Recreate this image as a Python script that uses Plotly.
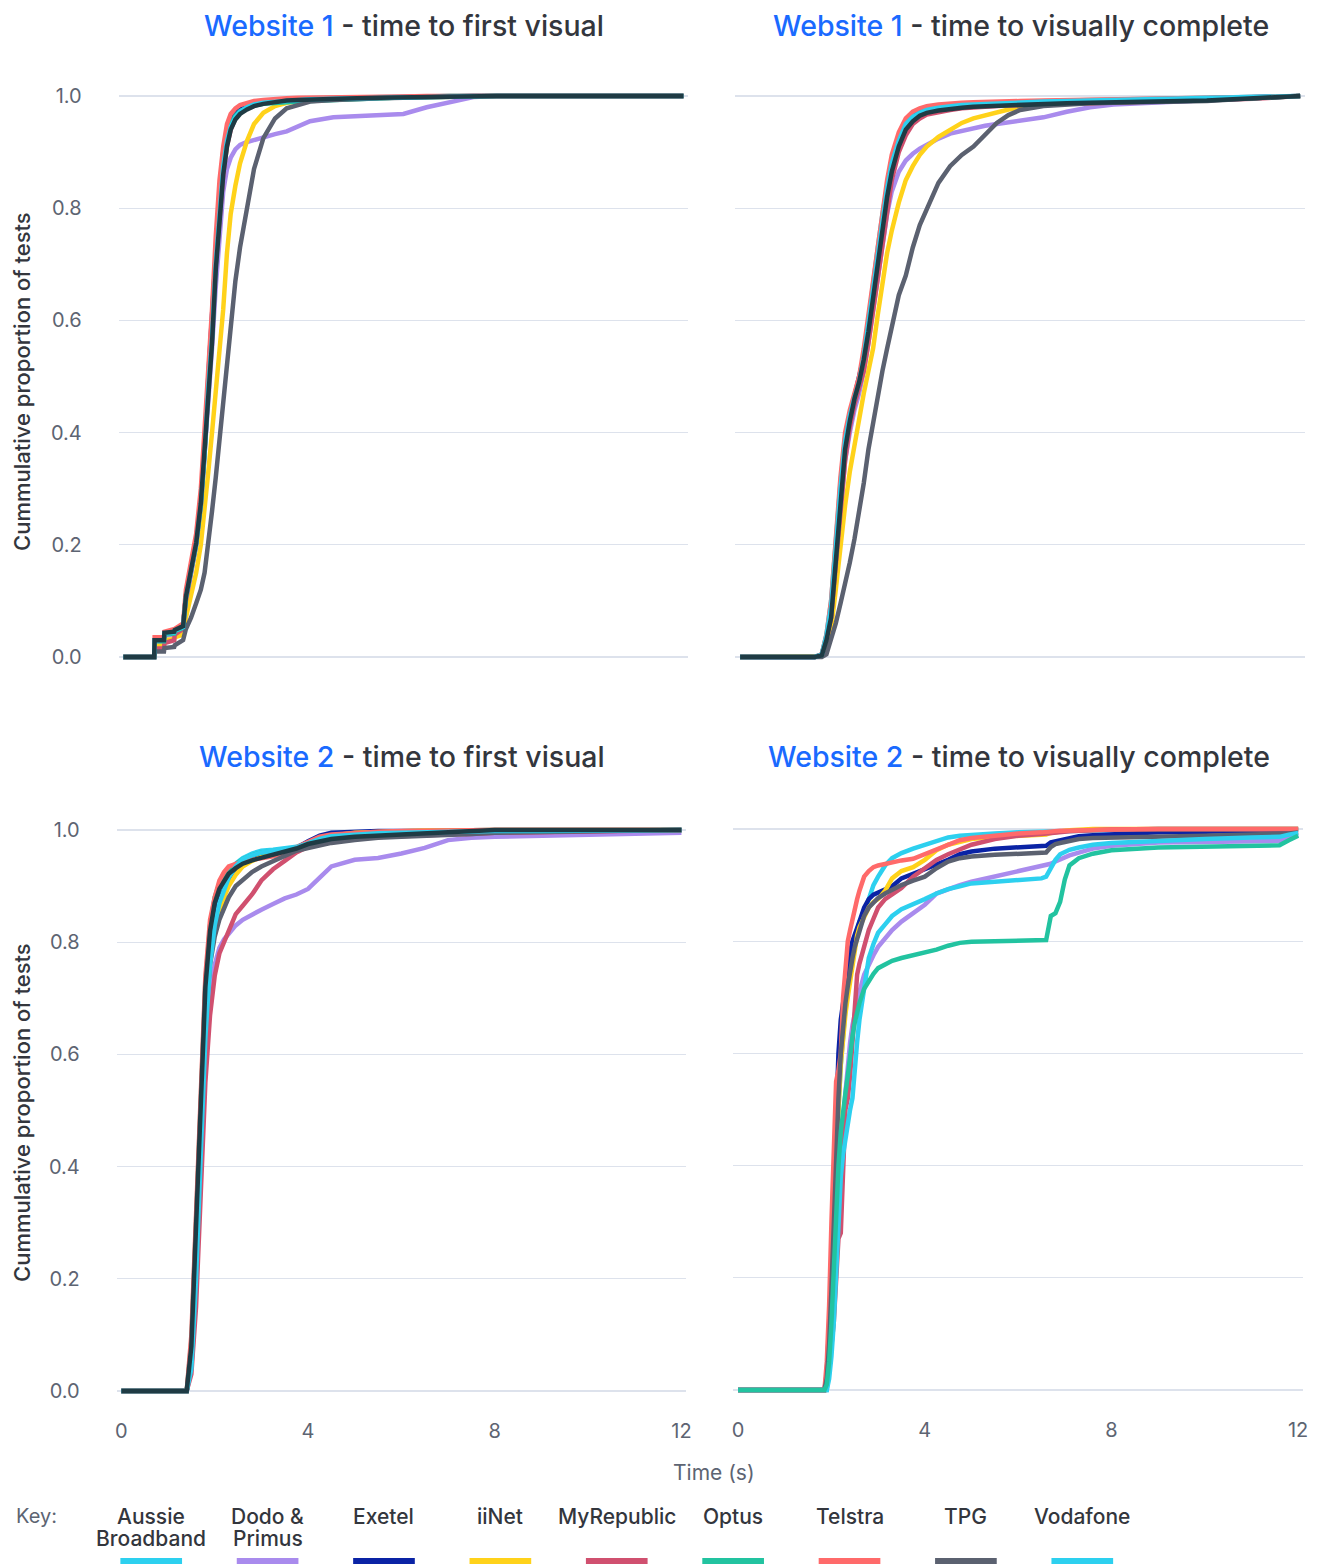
import plotly.graph_objects as go

# ---------------- data ----------------
ISPS = ["Aussie Broadband", "Dodo & Primus", "Exetel", "iiNet", "MyRepublic",
        "Optus", "Telstra", "TPG", "Vodafone"]
LEGEND_LABELS = [["Aussie", "Broadband"], ["Dodo &", "Primus"], ["Exetel"], ["iiNet"],
                 ["MyRepublic"], ["Optus"], ["Telstra"], ["TPG"], ["Vodafone"]]
COLORS = ["#2dd0ef", "#a98bed", "#0a23a5", "#ffd21a", "#d0506f",
          "#22c3a0", "#ff6a6a", "#5b6170", "#2dd0ef"]
OVERALL_COLOR = "#1f3b44"

X_TICKS = [0, 4, 8, 12]
Y_TICKS = [0.0, 0.2, 0.4, 0.6, 0.8, 1.0]

# Website 1 - time to first visual
T_W1_FIRST = [0, 0.66, 0.67, 0.87, 0.88, 1.09, 1.10, 1.28, 1.34, 1.45, 1.56, 1.66, 1.74,
              1.82, 1.90, 1.98, 2.06, 2.14, 2.22, 2.30, 2.40, 2.50, 2.65, 2.80, 3.00, 3.25,
              3.50, 3.75, 4.00, 4.50, 5.00, 5.50, 6.00, 6.50, 7.00, 7.50, 8.00, 12.0]
W1_FIRST = {
    "Aussie Broadband": [0, 0, 0.03, 0.03, 0.043, 0.045, 0.048, 0.055, 0.11, 0.16, 0.21, 0.28, 0.38, 0.50, 0.58, 0.72, 0.82, 0.89, 0.93, 0.955, 0.97, 0.978, 0.984, 0.988, 0.991, 0.993, 0.994, 0.995, 0.996, 0.997, 0.998, 0.998, 0.999, 0.999, 1.0, 1.0, 1.0, 1.0],
    "Dodo & Primus": [0, 0, 0.025, 0.025, 0.038, 0.04, 0.044, 0.05, 0.10, 0.15, 0.20, 0.27, 0.36, 0.47, 0.55, 0.66, 0.76, 0.83, 0.87, 0.89, 0.905, 0.913, 0.918, 0.922, 0.927, 0.932, 0.937, 0.945, 0.955, 0.962, 0.964, 0.966, 0.968, 0.98, 0.99, 0.998, 1.0, 1.0],
    "Exetel": [0, 0, 0.03, 0.03, 0.043, 0.045, 0.048, 0.055, 0.11, 0.16, 0.21, 0.28, 0.37, 0.50, 0.60, 0.73, 0.83, 0.90, 0.94, 0.96, 0.972, 0.98, 0.985, 0.988, 0.99, 0.992, 0.993, 0.994, 0.995, 0.996, 0.997, 0.998, 0.999, 0.999, 1.0, 1.0, 1.0, 1.0],
    "iiNet": [0, 0, 0.02, 0.02, 0.03, 0.032, 0.035, 0.04, 0.07, 0.11, 0.15, 0.20, 0.26, 0.33, 0.40, 0.47, 0.53, 0.62, 0.72, 0.79, 0.84, 0.88, 0.92, 0.95, 0.97, 0.982, 0.988, 0.991, 0.993, 0.995, 0.996, 0.997, 0.998, 0.999, 1.0, 1.0, 1.0, 1.0],
    "MyRepublic": [0, 0, 0.015, 0.015, 0.025, 0.03, 0.04, 0.05, 0.10, 0.15, 0.20, 0.27, 0.36, 0.48, 0.57, 0.70, 0.79, 0.86, 0.91, 0.94, 0.96, 0.972, 0.98, 0.985, 0.989, 0.992, 0.993, 0.994, 0.995, 0.996, 0.997, 0.998, 0.999, 0.999, 1.0, 1.0, 1.0, 1.0],
    "Optus": [0, 0, 0.028, 0.028, 0.04, 0.042, 0.046, 0.052, 0.11, 0.16, 0.21, 0.28, 0.37, 0.49, 0.57, 0.71, 0.81, 0.88, 0.925, 0.95, 0.965, 0.973, 0.979, 0.983, 0.986, 0.988, 0.989, 0.99, 0.991, 0.993, 0.995, 0.997, 0.998, 0.999, 1.0, 1.0, 1.0, 1.0],
    "Telstra": [0, 0, 0.035, 0.035, 0.045, 0.048, 0.05, 0.06, 0.12, 0.17, 0.22, 0.30, 0.40, 0.52, 0.62, 0.75, 0.85, 0.91, 0.95, 0.968, 0.978, 0.984, 0.988, 0.991, 0.993, 0.995, 0.996, 0.997, 0.997, 0.998, 0.998, 0.999, 0.999, 1.0, 1.0, 1.0, 1.0, 1.0],
    "TPG": [0, 0, 0.01, 0.01, 0.016, 0.018, 0.021, 0.03, 0.05, 0.07, 0.096, 0.12, 0.15, 0.20, 0.26, 0.32, 0.39, 0.46, 0.53, 0.59, 0.67, 0.73, 0.80, 0.87, 0.925, 0.96, 0.978, 0.985, 0.99, 0.993, 0.995, 0.996, 0.997, 0.998, 0.999, 1.0, 1.0, 1.0],
    "Vodafone": [0, 0, 0.03, 0.03, 0.042, 0.044, 0.047, 0.053, 0.105, 0.155, 0.20, 0.27, 0.36, 0.48, 0.57, 0.70, 0.80, 0.875, 0.92, 0.945, 0.962, 0.972, 0.98, 0.985, 0.988, 0.99, 0.992, 0.993, 0.994, 0.995, 0.996, 0.997, 0.998, 0.999, 1.0, 1.0, 1.0, 1.0],
}
W1_FIRST_ALL = [0, 0, 0.03, 0.03, 0.043, 0.045, 0.048, 0.055, 0.107, 0.155, 0.203, 0.274, 0.37, 0.49, 0.56, 0.69, 0.79, 0.86, 0.91, 0.94, 0.958, 0.968, 0.976, 0.982, 0.986, 0.99, 0.992, 0.993, 0.994, 0.995, 0.996, 0.997, 0.998, 0.999, 1.0, 1.0, 1.0, 1.0]

# Website 1 - time to visually complete
T_W1_VC = [0, 1.6, 1.75, 1.85, 1.95, 2.05, 2.15, 2.25, 2.35, 2.45, 2.55, 2.65, 2.75, 2.85,
           2.95, 3.05, 3.15, 3.25, 3.4, 3.55, 3.7, 3.85, 4.0, 4.25, 4.5, 4.75, 5.0, 5.25,
           5.5, 5.75, 6.0, 6.5, 7.0, 7.5, 8.0, 9.0, 10.0, 11.0, 12.0]
W1_VC = {
    "Aussie Broadband": [0, 0, 0.005, 0.04, 0.10, 0.21, 0.31, 0.39, 0.43, 0.465, 0.495, 0.54, 0.60, 0.67, 0.73, 0.79, 0.84, 0.885, 0.925, 0.952, 0.965, 0.972, 0.977, 0.981, 0.983, 0.985, 0.986, 0.987, 0.988, 0.989, 0.99, 0.991, 0.992, 0.993, 0.994, 0.995, 0.996, 0.998, 1.0],
    "Dodo & Primus": [0, 0, 0.003, 0.03, 0.07, 0.17, 0.27, 0.35, 0.40, 0.44, 0.47, 0.51, 0.56, 0.62, 0.68, 0.74, 0.79, 0.83, 0.865, 0.885, 0.897, 0.906, 0.913, 0.924, 0.933, 0.938, 0.943, 0.947, 0.95, 0.953, 0.956, 0.962, 0.972, 0.98, 0.985, 0.989, 0.992, 0.996, 1.0],
    "Exetel": [0, 0, 0.004, 0.035, 0.08, 0.18, 0.29, 0.38, 0.43, 0.465, 0.495, 0.535, 0.59, 0.66, 0.72, 0.78, 0.835, 0.88, 0.925, 0.955, 0.968, 0.974, 0.978, 0.981, 0.983, 0.984, 0.985, 0.986, 0.987, 0.988, 0.988, 0.989, 0.99, 0.991, 0.992, 0.993, 0.995, 0.997, 1.0],
    "iiNet": [0, 0, 0.002, 0.02, 0.05, 0.12, 0.20, 0.27, 0.33, 0.38, 0.43, 0.47, 0.51, 0.55, 0.61, 0.67, 0.72, 0.76, 0.81, 0.85, 0.875, 0.895, 0.91, 0.927, 0.94, 0.952, 0.96, 0.966, 0.972, 0.976, 0.979, 0.984, 0.986, 0.988, 0.989, 0.991, 0.994, 0.997, 1.0],
    "MyRepublic": [0, 0, 0.003, 0.03, 0.07, 0.16, 0.26, 0.35, 0.41, 0.45, 0.48, 0.51, 0.56, 0.62, 0.68, 0.74, 0.80, 0.85, 0.90, 0.93, 0.95, 0.96, 0.967, 0.972, 0.975, 0.978, 0.98, 0.981, 0.982, 0.983, 0.984, 0.985, 0.986, 0.987, 0.988, 0.99, 0.992, 0.995, 1.0],
    "Optus": [0, 0, 0.004, 0.035, 0.08, 0.18, 0.29, 0.38, 0.425, 0.46, 0.49, 0.53, 0.585, 0.65, 0.71, 0.77, 0.825, 0.87, 0.915, 0.945, 0.96, 0.968, 0.973, 0.977, 0.979, 0.981, 0.982, 0.983, 0.984, 0.985, 0.986, 0.987, 0.988, 0.989, 0.99, 0.991, 0.993, 0.996, 1.0],
    "Telstra": [0, 0, 0.005, 0.04, 0.10, 0.21, 0.32, 0.40, 0.44, 0.47, 0.50, 0.55, 0.61, 0.68, 0.74, 0.80, 0.85, 0.895, 0.935, 0.96, 0.972, 0.978, 0.982, 0.985, 0.987, 0.988, 0.989, 0.99, 0.99, 0.991, 0.991, 0.992, 0.993, 0.994, 0.995, 0.996, 0.997, 0.998, 1.0],
    "TPG": [0, 0, 0, 0.005, 0.03, 0.06, 0.095, 0.13, 0.168, 0.21, 0.255, 0.31, 0.37, 0.42, 0.47, 0.51, 0.55, 0.59, 0.645, 0.68, 0.73, 0.77, 0.80, 0.845, 0.875, 0.895, 0.91, 0.932, 0.952, 0.966, 0.975, 0.982, 0.985, 0.987, 0.988, 0.989, 0.991, 0.996, 1.0],
    "Vodafone": [0, 0, 0.004, 0.038, 0.09, 0.2, 0.3, 0.385, 0.43, 0.462, 0.49, 0.535, 0.595, 0.665, 0.725, 0.785, 0.835, 0.88, 0.92, 0.95, 0.963, 0.97, 0.975, 0.979, 0.982, 0.984, 0.985, 0.986, 0.987, 0.988, 0.989, 0.99, 0.991, 0.992, 0.993, 0.994, 0.996, 0.998, 1.0],
}
W1_VC_ALL = [0, 0, 0.003, 0.03, 0.07, 0.17, 0.28, 0.37, 0.42, 0.46, 0.49, 0.53, 0.58, 0.64, 0.70, 0.76, 0.82, 0.865, 0.91, 0.94, 0.955, 0.965, 0.97, 0.974, 0.977, 0.979, 0.981, 0.982, 0.983, 0.984, 0.985, 0.986, 0.987, 0.988, 0.989, 0.99, 0.992, 0.996, 1.0]

# Website 2 - time to first visual
T_W2_FIRST = [0, 1.4, 1.5, 1.6, 1.7, 1.8, 1.9, 2.0, 2.1, 2.2, 2.3, 2.45, 2.6, 2.8, 3.0, 3.25,
              3.5, 3.75, 4.0, 4.25, 4.5, 5.0, 5.5, 6.0, 6.5, 7.0, 7.5, 8.0, 9.0, 10.0, 11.0, 12.0]
W2_FIRST = {
    "Aussie Broadband": [0, 0, 0.05, 0.22, 0.45, 0.66, 0.78, 0.85, 0.89, 0.91, 0.925, 0.94, 0.95, 0.958, 0.963, 0.965, 0.967, 0.97, 0.978, 0.985, 0.99, 0.993, 0.994, 0.995, 0.996, 0.997, 0.997, 0.998, 0.998, 0.999, 0.999, 1.0],
    "Dodo & Primus": [0, 0, 0.04, 0.18, 0.40, 0.60, 0.70, 0.76, 0.79, 0.805, 0.815, 0.83, 0.84, 0.85, 0.858, 0.868, 0.878, 0.885, 0.895, 0.915, 0.935, 0.947, 0.95, 0.958, 0.968, 0.982, 0.986, 0.988, 0.99, 0.991, 0.992, 0.995],
    "Exetel": [0, 0, 0.07, 0.26, 0.50, 0.70, 0.80, 0.85, 0.875, 0.895, 0.91, 0.925, 0.94, 0.95, 0.955, 0.96, 0.965, 0.968, 0.98, 0.99, 0.995, 0.997, 0.998, 0.998, 0.999, 0.999, 0.999, 1.0, 1.0, 1.0, 1.0, 1.0],
    "iiNet": [0, 0, 0.06, 0.24, 0.46, 0.67, 0.77, 0.82, 0.85, 0.88, 0.90, 0.92, 0.935, 0.945, 0.952, 0.957, 0.962, 0.967, 0.975, 0.983, 0.99, 0.995, 0.997, 0.998, 0.999, 0.999, 1.0, 1.0, 1.0, 1.0, 1.0, 1.0],
    "MyRepublic": [0, 0, 0.03, 0.15, 0.35, 0.55, 0.67, 0.74, 0.78, 0.80, 0.825, 0.85, 0.865, 0.885, 0.91, 0.93, 0.945, 0.96, 0.97, 0.977, 0.982, 0.986, 0.988, 0.99, 0.991, 0.992, 0.993, 0.995, 0.996, 0.997, 0.998, 1.0],
    "Optus": [0, 0, 0.09, 0.30, 0.54, 0.73, 0.83, 0.88, 0.905, 0.92, 0.93, 0.94, 0.948, 0.955, 0.96, 0.962, 0.965, 0.968, 0.975, 0.98, 0.984, 0.987, 0.99, 0.992, 0.994, 0.995, 0.996, 0.997, 0.998, 0.999, 0.999, 1.0],
    "Telstra": [0, 0, 0.10, 0.32, 0.55, 0.74, 0.84, 0.88, 0.91, 0.925, 0.935, 0.94, 0.944, 0.947, 0.95, 0.953, 0.96, 0.97, 0.98, 0.988, 0.992, 0.995, 0.997, 0.998, 0.999, 0.999, 1.0, 1.0, 1.0, 1.0, 1.0, 1.0],
    "TPG": [0, 0, 0.06, 0.24, 0.47, 0.66, 0.76, 0.81, 0.84, 0.86, 0.88, 0.90, 0.91, 0.925, 0.935, 0.945, 0.955, 0.963, 0.968, 0.972, 0.977, 0.982, 0.986, 0.988, 0.989, 0.99, 0.993, 0.995, 0.997, 0.998, 0.999, 1.0],
    "Vodafone": [0, 0, 0.04, 0.20, 0.42, 0.63, 0.76, 0.83, 0.87, 0.895, 0.915, 0.935, 0.948, 0.955, 0.96, 0.963, 0.966, 0.969, 0.976, 0.984, 0.989, 0.992, 0.994, 0.995, 0.996, 0.997, 0.997, 0.998, 0.998, 0.999, 0.999, 1.0],
}
W2_FIRST_ALL = [0, 0, 0.08, 0.28, 0.52, 0.72, 0.82, 0.87, 0.895, 0.91, 0.922, 0.932, 0.94, 0.946, 0.95, 0.955, 0.96, 0.967, 0.975, 0.98, 0.984, 0.988, 0.99, 0.992, 0.994, 0.996, 0.998, 1.0, 1.0, 1.0, 1.0, 1.0]

# Website 2 - time to visually complete
T_W2_VC = [0, 1.85, 1.9, 1.95, 2.0, 2.05, 2.1, 2.15, 2.2, 2.25, 2.3, 2.35, 2.4, 2.45, 2.5,
           2.55, 2.6, 2.7, 2.8, 2.9, 3.0, 3.15, 3.3, 3.5, 3.75, 4.0, 4.25, 4.5, 4.75, 5.0,
           5.5, 6.0, 6.5, 6.6, 6.7, 6.8, 6.9, 7.0, 7.1, 7.3, 7.6, 8.0, 9.0, 10.0, 11.0,
           11.6, 11.8, 12.0]
W2_VC = {
    "Aussie Broadband": [0, 0, 0, 0.05, 0.15, 0.30, 0.42, 0.50, 0.58, 0.64, 0.68, 0.72, 0.75, 0.78, 0.80, 0.82, 0.835, 0.85, 0.875, 0.90, 0.915, 0.935, 0.948, 0.957, 0.965, 0.972, 0.98, 0.985, 0.988, 0.99, 0.992, 0.994, 0.995, 0.995, 0.996, 0.996, 0.996, 0.997, 0.997, 0.997, 0.998, 0.999, 1.0, 1.0, 1.0, 1.0, 1.0, 1.0],
    "Dodo & Primus": [0, 0, 0.01, 0.05, 0.10, 0.18, 0.26, 0.35, 0.42, 0.48, 0.53, 0.58, 0.62, 0.65, 0.67, 0.69, 0.71, 0.74, 0.76, 0.775, 0.79, 0.805, 0.82, 0.835, 0.85, 0.865, 0.885, 0.893, 0.90, 0.906, 0.915, 0.924, 0.933, 0.935, 0.938, 0.942, 0.946, 0.95, 0.953, 0.958, 0.965, 0.97, 0.976, 0.977, 0.978, 0.979, 0.985, 0.99],
    "Exetel": [0, 0, 0.03, 0.10, 0.20, 0.35, 0.50, 0.60, 0.66, 0.69, 0.72, 0.76, 0.78, 0.80, 0.81, 0.82, 0.835, 0.86, 0.875, 0.883, 0.887, 0.891, 0.898, 0.912, 0.92, 0.928, 0.935, 0.945, 0.955, 0.96, 0.965, 0.967, 0.968, 0.97, 0.976, 0.978, 0.98, 0.982, 0.984, 0.987, 0.989, 0.991, 0.994, 0.995, 0.996, 0.996, 0.997, 0.998],
    "iiNet": [0, 0, 0.02, 0.07, 0.15, 0.28, 0.40, 0.50, 0.58, 0.63, 0.67, 0.70, 0.73, 0.76, 0.79, 0.81, 0.825, 0.845, 0.86, 0.87, 0.875, 0.89, 0.912, 0.925, 0.932, 0.945, 0.962, 0.972, 0.978, 0.982, 0.986, 0.988, 0.989, 0.99, 0.993, 0.995, 0.996, 0.997, 0.998, 0.999, 1.0, 1.0, 1.0, 1.0, 1.0, 1.0, 1.0, 1.0],
    "MyRepublic": [0, 0, 0.01, 0.04, 0.08, 0.12, 0.20, 0.27, 0.28, 0.40, 0.50, 0.52, 0.56, 0.62, 0.68, 0.74, 0.76, 0.79, 0.82, 0.84, 0.86, 0.875, 0.883, 0.895, 0.915, 0.93, 0.945, 0.955, 0.963, 0.972, 0.982, 0.988, 0.991, 0.992, 0.994, 0.995, 0.995, 0.996, 0.996, 0.997, 0.998, 0.999, 1.0, 1.0, 1.0, 1.0, 1.0, 1.0],
    "Optus": [0, 0, 0.01, 0.05, 0.12, 0.22, 0.32, 0.40, 0.46, 0.50, 0.53, 0.56, 0.60, 0.63, 0.655, 0.675, 0.69, 0.715, 0.73, 0.742, 0.752, 0.758, 0.765, 0.77, 0.775, 0.778, 0.785, 0.792, 0.797, 0.799, 0.80, 0.80, 0.801, 0.802, 0.845, 0.85, 0.87, 0.91, 0.935, 0.948, 0.956, 0.962, 0.967, 0.969, 0.97, 0.971, 0.98, 0.988],
    "Telstra": [0, 0, 0.05, 0.15, 0.30, 0.45, 0.55, 0.57, 0.60, 0.70, 0.76, 0.80, 0.82, 0.84, 0.86, 0.875, 0.89, 0.915, 0.925, 0.932, 0.935, 0.938, 0.941, 0.944, 0.947, 0.955, 0.965, 0.972, 0.98, 0.984, 0.989, 0.992, 0.994, 0.995, 0.995, 0.996, 0.997, 0.997, 0.997, 0.998, 0.998, 0.999, 1.0, 1.0, 1.0, 1.0, 1.0, 1.0],
    "TPG": [0, 0, 0.02, 0.08, 0.18, 0.30, 0.42, 0.52, 0.60, 0.65, 0.69, 0.72, 0.75, 0.77, 0.79, 0.805, 0.82, 0.845, 0.86, 0.87, 0.877, 0.885, 0.892, 0.90, 0.908, 0.915, 0.93, 0.942, 0.948, 0.951, 0.954, 0.956, 0.957, 0.958, 0.968, 0.973, 0.975, 0.977, 0.979, 0.982, 0.984, 0.985, 0.987, 0.988, 0.99, 0.99, 0.992, 0.994],
    "Vodafone": [0, 0, 0, 0.02, 0.06, 0.12, 0.20, 0.30, 0.38, 0.42, 0.45, 0.48, 0.50, 0.52, 0.58, 0.62, 0.66, 0.72, 0.77, 0.795, 0.815, 0.83, 0.845, 0.857, 0.865, 0.875, 0.885, 0.893, 0.898, 0.903, 0.906, 0.909, 0.912, 0.915, 0.93, 0.945, 0.955, 0.96, 0.963, 0.967, 0.972, 0.975, 0.979, 0.982, 0.985, 0.986, 0.99, 0.993],
}

PANEL_TITLES = [("Website 1", " - time to first visual"),
                ("Website 1", " - time to visually complete"),
                ("Website 2", " - time to first visual"),
                ("Website 2", " - time to visually complete")]

# ---------------- layout helpers ----------------
W, H = 1332, 1566
FONT = "Inter, Lato, sans-serif"
GREY = "#5d6472"
DARK = "#33363d"
BLUE = "#1a6aff"


def px_x(p):
    return p / W


def px_y(p):
    return 1 - p / H


# pixel geometry of each panel: (x of t=0, x of t=12, y of p=1, y of p=0)
PANELS = [(122, 685, 96, 657), (742, 1305, 96, 657),
          (120, 683, 830, 1391), (740, 1303, 829, 1390)]
XPAD, YPAD = 0.1, 0.03

fig = go.Figure()

panel_data = [(T_W1_FIRST, W1_FIRST, W1_FIRST_ALL),
              (T_W1_VC, W1_VC, W1_VC_ALL),
              (T_W2_FIRST, W2_FIRST, W2_FIRST_ALL),
              (T_W2_VC, W2_VC, None)]

for i, (tgrid, series, overall) in enumerate(panel_data):
    xa = "x" if i == 0 else f"x{i+1}"
    ya = "y" if i == 0 else f"y{i+1}"
    order = list(range(len(ISPS)))
    if overall is None:
        order = [k for k in order if ISPS[k] != "Optus"] + [ISPS.index("Optus")]
    for k in order:
        name = ISPS[k]
        fig.add_trace(go.Scatter(
            x=tgrid, y=series[name], mode="lines", name=name,
            line=dict(color=COLORS[k], width=4.5), showlegend=False,
            xaxis=xa, yaxis=ya, hoverinfo="skip"))
    if overall is not None:
        fig.add_trace(go.Scatter(
            x=tgrid, y=overall, mode="lines", name="All",
            line=dict(color=OVERALL_COLOR, width=4.5), showlegend=False,
            xaxis=xa, yaxis=ya, hoverinfo="skip"))

layout = dict(
    width=W, height=H, margin=dict(l=0, r=0, t=0, b=0),
    paper_bgcolor="white", plot_bgcolor="white",
    font=dict(family=FONT, color=DARK), showlegend=False,
)

for i, (x0, x12, y1, y0) in enumerate(PANELS):
    ppu_x = (x12 - x0) / 12.0
    ppu_y = (y0 - y1) / 1.0
    dom_x = [px_x(x0 - XPAD * ppu_x), px_x(x12 + XPAD * ppu_x)]
    dom_y = [px_y(y0 + YPAD * ppu_y), px_y(y1 - YPAD * ppu_y)]
    sfx = "" if i == 0 else str(i + 1)
    layout[f"xaxis{sfx}"] = dict(
        domain=dom_x, range=[-XPAD, 12 + XPAD], anchor=f"y{sfx}" if sfx else "y",
        tickvals=X_TICKS, showticklabels=(i >= 2), showgrid=False, zeroline=False,
        showline=False, ticks="", tickfont=dict(size=20, color=GREY, family=FONT),
        ticklabelstandoff=9, fixedrange=True)
    layout[f"yaxis{sfx}"] = dict(
        domain=dom_y, range=[-YPAD, 1 + YPAD], anchor=f"x{sfx}" if sfx else "x",
        tickvals=Y_TICKS, tickformat=".1f", showticklabels=(i % 2 == 0),
        showgrid=True, gridcolor="#dde2ec", gridwidth=1.2, zeroline=False,
        showline=False, ticks="", tickfont=dict(size=20, color=GREY, family=FONT),
        ticklabelstandoff=36, fixedrange=True)

annotations = []
for i, (x0, x12, y1, y0) in enumerate(PANELS):
    blue, rest = PANEL_TITLES[i]
    cy = 26 if i < 2 else 757
    annotations.append(dict(
        xref="paper", yref="paper", x=px_x((x0 + x12) / 2 + 1), y=px_y(cy),
        xanchor="center", yanchor="middle", showarrow=False,
        text=f"<span style='color:{BLUE}'>{blue}</span>{rest}",
        font=dict(size=28.5, color=DARK, family=FONT, weight=500)))

for cy in (381, 1112):
    annotations.append(dict(
        xref="paper", yref="paper", x=px_x(20), y=px_y(cy), textangle=-90,
        xanchor="center", yanchor="middle", showarrow=False,
        text="Cummulative proportion of tests",
        font=dict(size=22, color=DARK, family=FONT, weight=500)))

annotations.append(dict(
    xref="paper", yref="paper", x=px_x(716), y=px_y(1472),
    xanchor="center", yanchor="middle", showarrow=False, text="Time (s)",
    font=dict(size=21, color=GREY, family=FONT)))

annotations.append(dict(
    xref="paper", yref="paper", x=px_x(12), y=px_y(1516),
    xanchor="left", yanchor="middle", showarrow=False, text="Key:",
    font=dict(size=20, color=GREY, family=FONT)))

shapes = []
KEY_X0, KEY_DX = 150, 117
for k, lines in enumerate(LEGEND_LABELS):
    cx = KEY_X0 + KEY_DX * k
    for j, line in enumerate(lines):
        annotations.append(dict(
            xref="paper", yref="paper", x=px_x(cx), y=px_y(1516 + 22 * j),
            xanchor="center", yanchor="middle", showarrow=False, text=line,
            font=dict(size=21, color=DARK, family=FONT, weight=500)))
    shapes.append(dict(
        type="line", xref="paper", yref="paper",
        x0=px_x(cx - 31), x1=px_x(cx + 31), y0=px_y(1561), y1=px_y(1561),
        line=dict(color=COLORS[k], width=6)))

layout["annotations"] = annotations
layout["shapes"] = shapes
fig.update_layout(**layout)

# remove the default page margin so the figure fills the window exactly
fig.write_html(
    "out.html",
    config={"displayModeBar": False, "staticPlot": True},
    post_script="document.body.style.margin='0';"
                "document.documentElement.style.overflow='hidden';")
